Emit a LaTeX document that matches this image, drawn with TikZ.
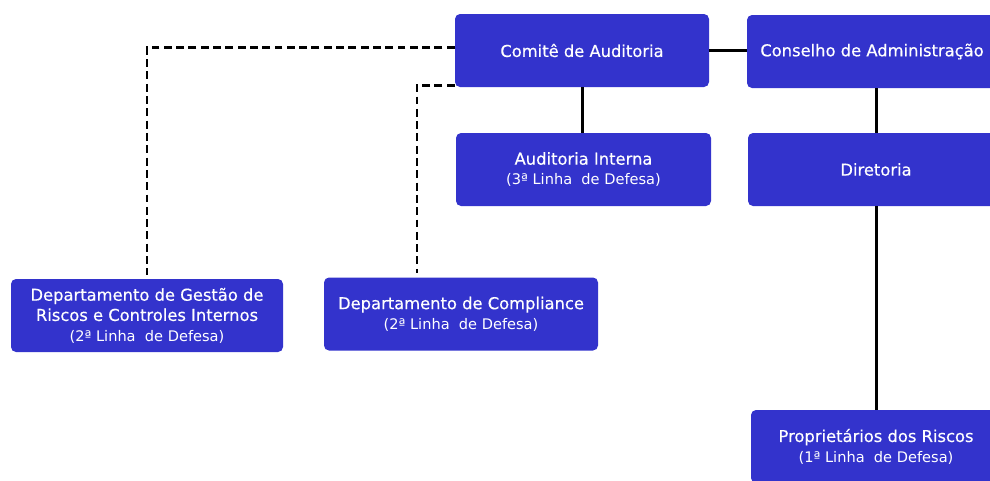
\documentclass[tikz,border=0pt]{standalone}
\usepackage{fontspec}
\setmainfont{DejaVu Sans}
\newfontfamily\headfont[FakeBold=0.35]{DejaVu Sans}
\usepackage{tikz}
\usetikzlibrary{calc,positioning}
\definecolor{boxblue}{RGB}{51,51,204}
\newcommand{\linha}[1]{{\normalfont\fontsize{8.3}{10}\selectfont(#1ª Linha\ \ de Defesa)}}

\begin{document}
\begin{tikzpicture}[
  every node/.style={rectangle, rounded corners=0.1cm, fill=boxblue, text=white, align=center,
    minimum height=1.46cm, inner sep=1pt, font=\headfont\fontsize{9.3}{11.5}\selectfont},
  link/.style={draw, line width=1.7pt},
  dashlink/.style={draw, line width=1.7pt, dash pattern=on 4.5pt off 2.5pt, shorten >=0.08cm}
]
\clip (0,0) rectangle (19.8,-9.6);
\useasboundingbox (0,0) rectangle (19.8,-9.6);
\node[minimum width=5.08cm] (comite) at (11.64,-1.01) {Comitê de Auditoria};
\node[minimum width=5.0cm] (conselho) at (17.44,-1.03) {Conselho de Administração};
\node[minimum width=5.1cm] (interna) at (11.67,-3.39) {Auditoria Interna\\\linha{3}};
\node[minimum width=5.12cm] (diretoria) at (17.52,-3.39) {Diretoria};
\node[minimum width=5.44cm] (gestao) at (2.94,-6.31) {Departamento de Gestão de\\Riscos e Controles Internos\\\linha{2}};
\node[minimum width=5.48cm] (compliance) at (9.22,-6.28) {Departamento de Compliance\\\linha{2}};
\node[minimum width=5.0cm] (donos) at (17.52,-8.93) {Proprietários dos Riscos\\\linha{1}};
% solid links
\draw[link] (comite.east) -- (comite.east -| conselho.west);
\draw[link] (comite.south) -- (comite.south |- interna.north);
\draw[link] (diretoria.north) -- (diretoria.north |- conselho.south);
\draw[link] (diretoria.south) -- (donos.north);
% dashed links
\draw[dashlink] ([yshift=0.07cm]comite.west) -| (gestao.north);
\draw[dashlink] ([yshift=-0.69cm]comite.west) -| ([xshift=-0.88cm]compliance.north);
\end{tikzpicture}
\end{document}
